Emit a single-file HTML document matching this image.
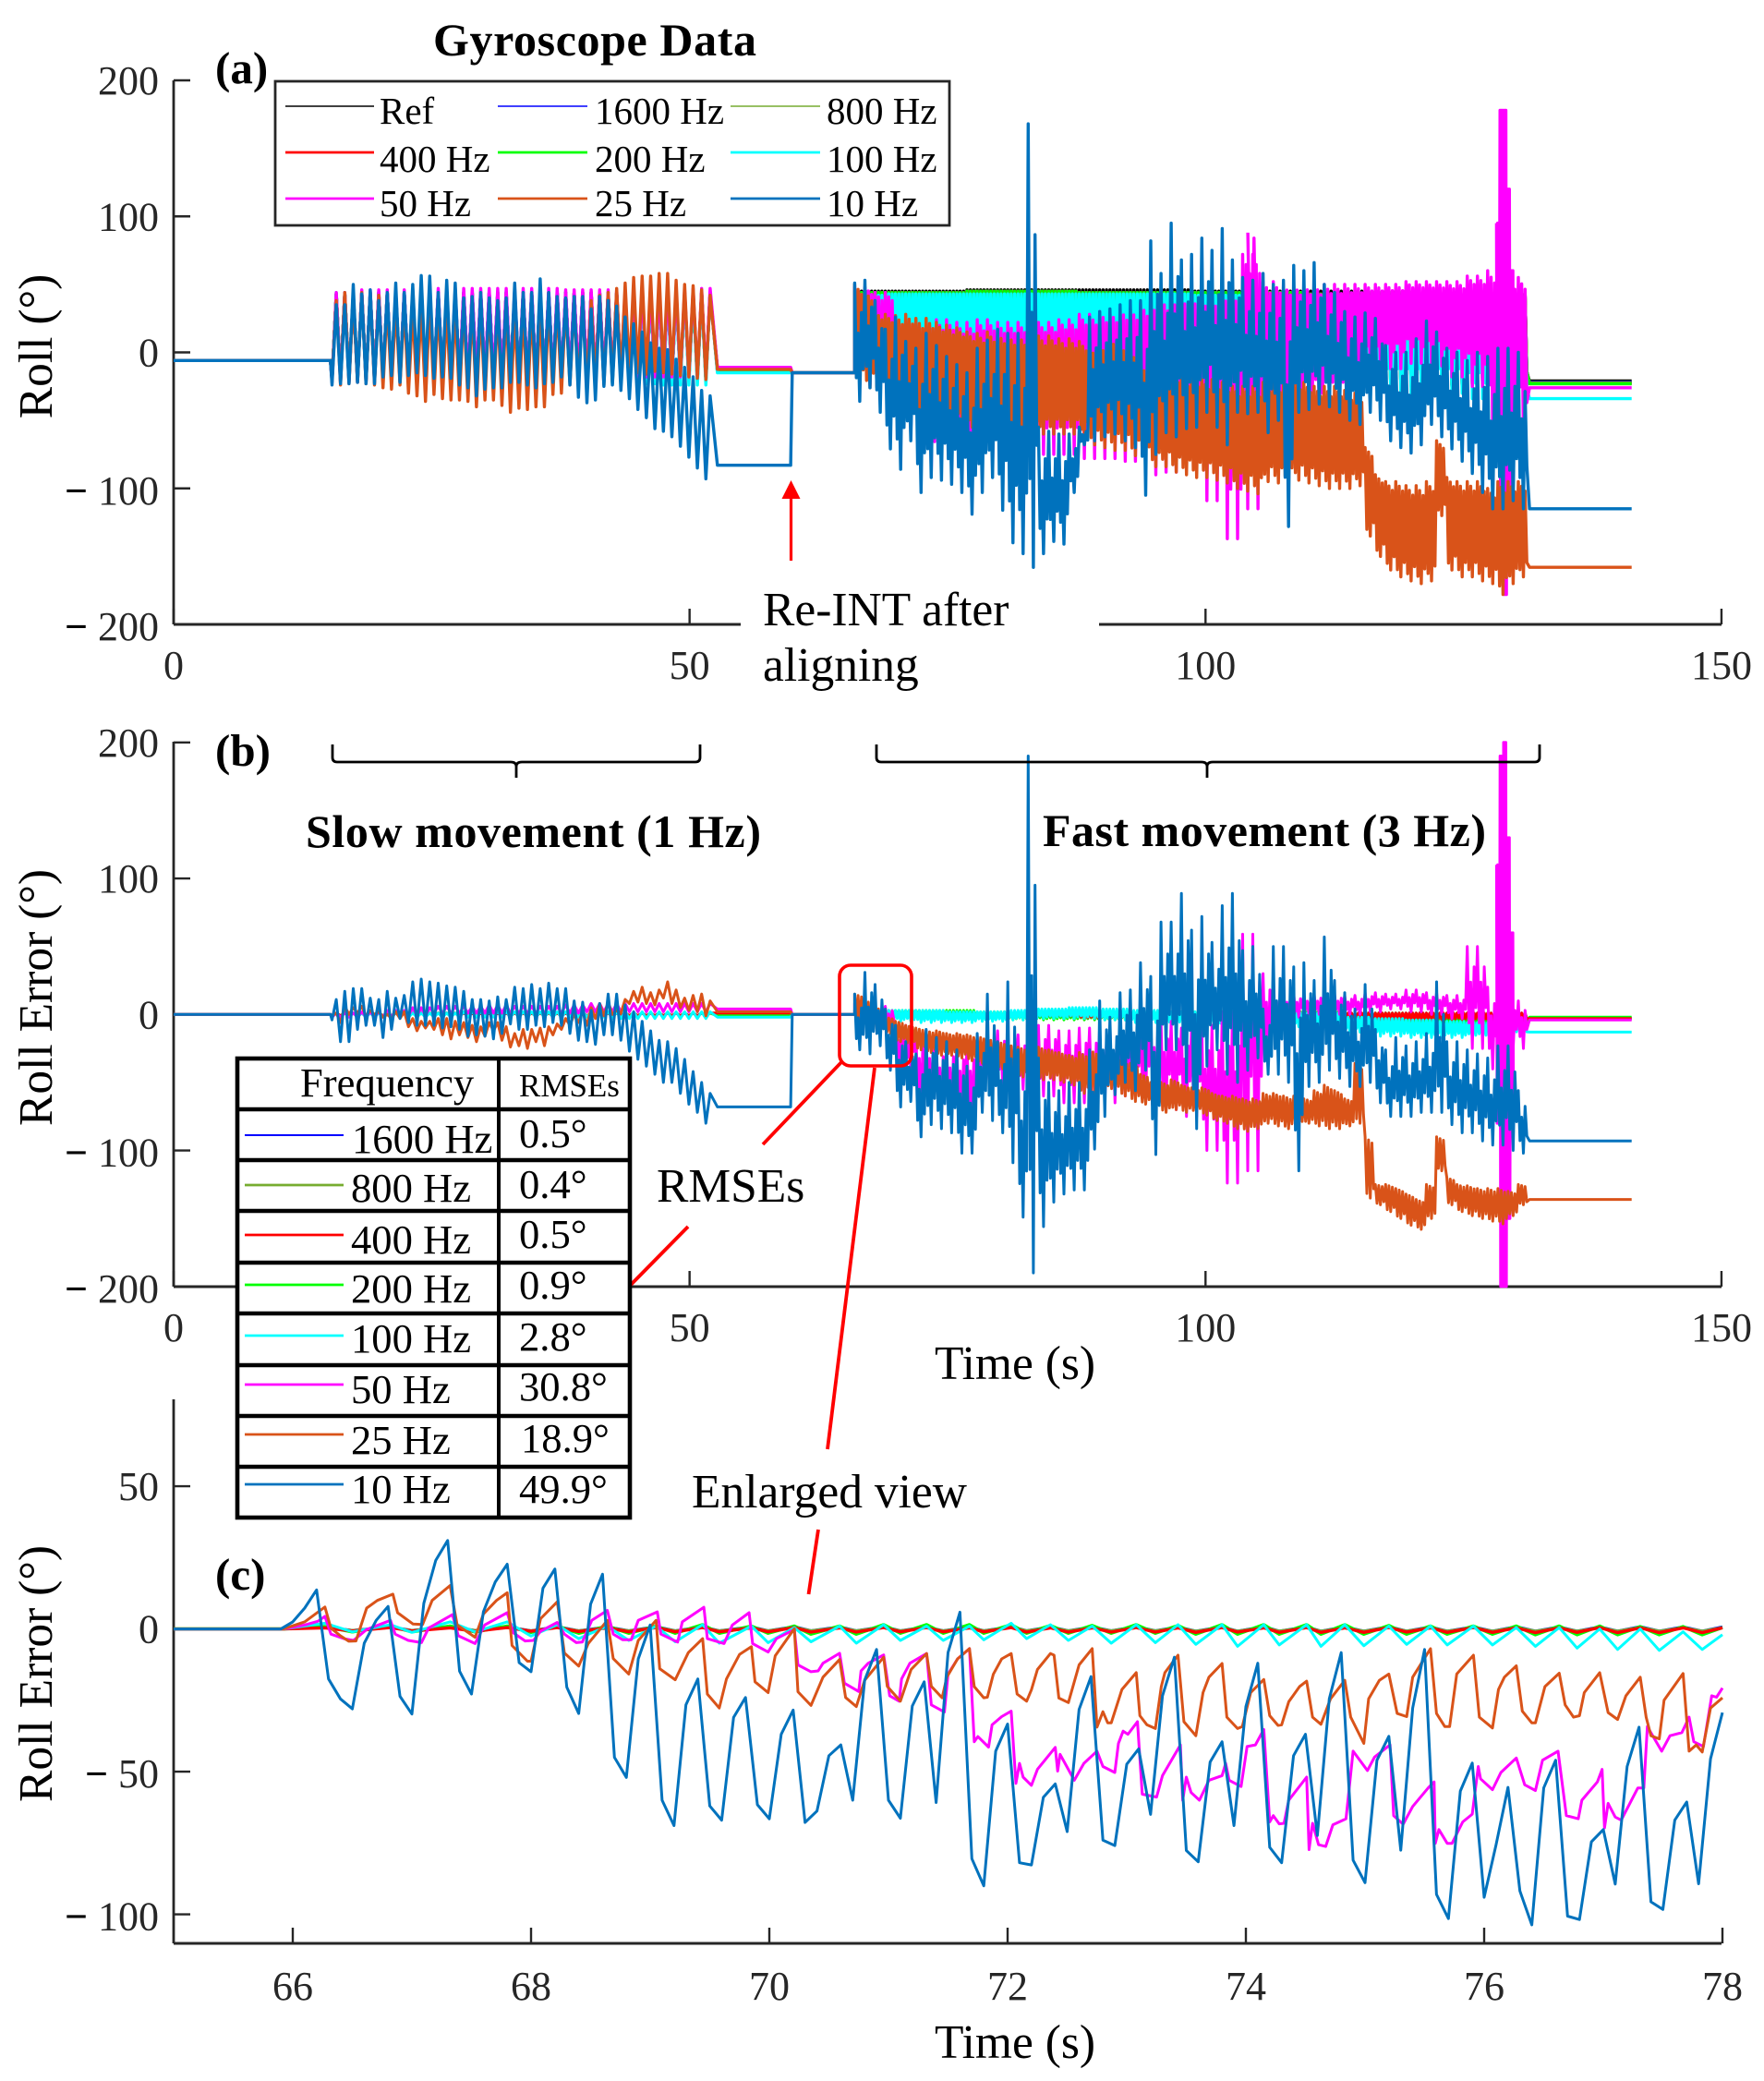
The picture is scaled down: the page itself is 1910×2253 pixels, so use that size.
<!DOCTYPE html>
<html lang="en">
<head>
<meta charset="utf-8">
<title>Gyroscope Data</title>
<style>
html,body{margin:0;padding:0;background:#fff;}
svg{display:block;font-family:"Liberation Serif",serif;}
text{fill:#000;}
.tick{fill:#262626;font-size:44px;}
.ann{font-size:51.5px;}
.leg{font-size:41px;}
.tb{font-size:44.6px;}
.b{font-weight:bold;}
</style>
</head>
<body>
<svg id="chart" xmlns="http://www.w3.org/2000/svg" width="1910" height="2253" viewBox="0 0 1910 2253">
<rect x="0" y="0" width="1910" height="2253" fill="#fff"/>
<g id="axesLayer"></g>
<g id="plotLayer" fill="none" stroke-linejoin="round"></g>

<text class="b" x="644" y="60" text-anchor="middle" font-size="50" textLength="350" lengthAdjust="spacing">Gyroscope Data</text>
<text class="b" x="233" y="90" font-size="49">(a)</text>
<text class="b" x="233" y="829" font-size="49">(b)</text>
<text class="b" x="233" y="1721" font-size="49">(c)</text>

<g>
<rect x="298" y="88" width="730" height="156" fill="#fff" stroke="#262626" stroke-width="2.8"/>
<line x1="309" x2="405" y1="115" y2="115" stroke="#000" stroke-width="1.6"/>
<text class="leg" x="411" y="134">Ref</text>
<line x1="539" x2="636" y1="115" y2="115" stroke="#0000ff" stroke-width="1.6"/>
<text class="leg" x="644" y="134">1600 Hz</text>
<line x1="791" x2="888" y1="115" y2="115" stroke="#77ac30" stroke-width="1.6"/>
<text class="leg" x="895" y="134">800 Hz</text>
<line x1="309" x2="405" y1="165" y2="165" stroke="#ff0000" stroke-width="2.8"/>
<text class="leg" x="411" y="186">400 Hz</text>
<line x1="539" x2="636" y1="165" y2="165" stroke="#00ff00" stroke-width="2.8"/>
<text class="leg" x="644" y="186">200 Hz</text>
<line x1="791" x2="888" y1="165" y2="165" stroke="#00ffff" stroke-width="2.8"/>
<text class="leg" x="895" y="186">100 Hz</text>
<line x1="309" x2="405" y1="215" y2="215" stroke="#ff00ff" stroke-width="2.8"/>
<text class="leg" x="411" y="234">50 Hz</text>
<line x1="539" x2="636" y1="215" y2="215" stroke="#d95319" stroke-width="2.8"/>
<text class="leg" x="644" y="234">25 Hz</text>
<line x1="791" x2="888" y1="215" y2="215" stroke="#0072bd" stroke-width="2.8"/>
<text class="leg" x="895" y="234">10 Hz</text>
</g>

<g>
<line x1="856.5" x2="856.5" y1="607" y2="536" stroke="#ff0000" stroke-width="3.2"/>
<polygon points="856.5,520 846.5,540 866.5,540" fill="#ff0000"/>
<text class="ann" x="826" y="677">Re-INT after</text>
<text class="ann" x="826" y="737">aligning</text>
</g>

<g>
<path d="M360 806 V820 Q360 825 365 825 H553 Q559 825 559 830 V842 M559 830 Q559 825 565 825 H753 Q758 825 758 820 V806" fill="none" stroke="#000" stroke-width="2.8"/>
<text class="b" x="331" y="917" font-size="50" textLength="493" lengthAdjust="spacing">Slow movement (1 Hz)</text>
</g>
<g>
<path d="M949 806 V820 Q949 825 954 825 H1301 Q1307 825 1307 830 V842 M1307 830 Q1307 825 1313 825 H1662 Q1667 825 1667 820 V806" fill="none" stroke="#000" stroke-width="2.8"/>
<text class="b" x="1129" y="916" font-size="50" textLength="480" lengthAdjust="spacing">Fast movement (3 Hz)</text>
</g>

<g stroke="#ff0000" fill="none">
<rect x="909" y="1045" width="78" height="109" rx="12" ry="12" stroke-width="3.6"/>
<line x1="911" y1="1150" x2="826" y2="1239" stroke-width="3.8"/>
<line x1="745" y1="1328" x2="681" y2="1393" stroke-width="3.8"/>
<line x1="947" y1="1156" x2="896" y2="1569" stroke-width="3.8"/>
<line x1="886" y1="1656" x2="875.5" y2="1726" stroke-width="3.8"/>
</g>
<text class="ann" x="711" y="1301">RMSEs</text>
<text class="ann" x="749" y="1632">Enlarged view</text>

<g>
<rect x="257" y="1146" width="425" height="497" fill="#fff" stroke="#000" stroke-width="4.6"/>
<line x1="540" x2="540" y1="1146" y2="1643" stroke="#000" stroke-width="4"/>
<g stroke="#000" stroke-width="4.6">
<line x1="257" x2="682" y1="1201" y2="1201"/>
<line x1="257" x2="682" y1="1256" y2="1256"/>
<line x1="257" x2="682" y1="1311" y2="1311"/>
<line x1="257" x2="682" y1="1367" y2="1367"/>
<line x1="257" x2="682" y1="1422" y2="1422"/>
<line x1="257" x2="682" y1="1478" y2="1478"/>
<line x1="257" x2="682" y1="1533" y2="1533"/>
<line x1="257" x2="682" y1="1588" y2="1588"/>
</g>
<text class="tb" x="325" y="1187">Frequency</text>
<text x="562" y="1187" font-size="35">RMSEs</text>

<line x1="265" x2="372" y1="1229" y2="1229" stroke="#0000ff" stroke-width="2"/>
<text class="tb" x="381" y="1248">1600 Hz</text>
<text class="tb" x="562" y="1242">0.5°</text>
<line x1="265" x2="372" y1="1283" y2="1283" stroke="#77ac30" stroke-width="2.8"/>
<text class="tb" x="380" y="1301">800 Hz</text>
<text class="tb" x="562" y="1297">0.4°</text>
<line x1="265" x2="372" y1="1337" y2="1337" stroke="#ff0000" stroke-width="2.8"/>
<text class="tb" x="380" y="1357">400 Hz</text>
<text class="tb" x="562" y="1351">0.5°</text>
<line x1="265" x2="372" y1="1391" y2="1391" stroke="#00ff00" stroke-width="2.8"/>
<text class="tb" x="380" y="1410">200 Hz</text>
<text class="tb" x="562" y="1406">0.9°</text>
<line x1="265" x2="372" y1="1446" y2="1446" stroke="#00ffff" stroke-width="2.8"/>
<text class="tb" x="380" y="1464">100 Hz</text>
<text class="tb" x="562" y="1462">2.8°</text>
<line x1="265" x2="372" y1="1499" y2="1499" stroke="#ff00ff" stroke-width="2.8"/>
<text class="tb" x="380" y="1519">50 Hz</text>
<text class="tb" x="562" y="1516">30.8°</text>
<line x1="265" x2="372" y1="1553" y2="1553" stroke="#d95319" stroke-width="2.8"/>
<text class="tb" x="380" y="1574">25 Hz</text>
<text class="tb" x="564" y="1572">18.9°</text>
<line x1="265" x2="372" y1="1607" y2="1607" stroke="#0072bd" stroke-width="2.8"/>
<text class="tb" x="380" y="1627">10 Hz</text>
<text class="tb" x="562" y="1627">49.9°</text>
</g>

<script>
/* ---------- shared tick labels ---------- */
const xTicksAB = [0, 50, 100, 150];
const xTickLabelsAB = ['0', '50', '100', '150'];
const yTicksAB = [200, 100, 0, -100, -200];
const yTickLabelsAB = ['200', '100', '0', '\u2212 100', '\u2212 200'];
const xTicksC = [66, 68, 70, 72, 74, 76, 78];
const xTickLabelsC = ['66', '68', '70', '72', '74', '76', '78'];
const yTicksC = [50, 0, -50, -100];
const yTickLabelsC = ['50', '0', '\u2212 50', '\u2212 100'];

/* ---------- panel (a): flat levels [before slow, after slow, re-aligned, after fast] ---------- */
const aLevelsRef = [-6, -14, -15, -21];
const aLevels1600 = [-6, -12, -15, -22];
const aLevels800 = [-6, -12, -15, -22.5];
const aLevels400 = [-6, -12, -15, -23];
const aLevels200 = [-6, -13, -15, -23];
const aLevels100 = [-6, -15, -15, -34];
const aLevels50 = [-6, -11, -15, -26];
const aLevels25 = [-6, -12.5, -15, -158];
const aLevels10 = [-6, -83, -15, -115];

/* panel (a): slow movement swing extremes */
const aSlowHiMinor = [43, 44, 44, 44, 44, 44, 44, 44, 44, 44, 44, 44, 44, 44, 44];
const aSlowLoMinor = [-20, -20, -20, -20, -20, -20, -20, -20, -20, -20, -20, -20, -20, -20, -20];
const aSlowHi100 = [44, 45, 45, 45, 45, 45, 45, 44, 44, 44, 44, 44, 44, 44, 44];
const aSlowLo100 = [-22, -22, -22, -22, -22, -22, -22, -22, -22, -22, -22, -23, -23, -24, -24];
const aSlowHi50 = [44, 46, 46, 46, 47, 47, 47, 47, 47, 46, 46, 46, 46, 46, 47];
const aSlowLo50 = [-22, -22, -22, -20, -20, -20, -20, -20, -20, -18, -18, -18, -18, -18, -18];
const aSlowHi25 = [38, 44, 40, 44, 43, 42, 36, 34, 34, 32, 34, 36, 34, 32, 32, 34, 33, 32, 34, 32, 34, 30, 32, 34, 32, 34, 36, 36, 34, 34, 38, 42, 44, 47, 51, 55, 56, 56, 58, 58, 53, 50, 49, 46, 42];
const aSlowLo25 = [-21, -24, -23, -22, -23, -24, -26, -27, -24, -30, -32, -36, -31, -34, -35, -35, -36, -40, -35, -35, -39, -44, -41, -42, -40, -40, -31, -30, -24, -22, -21, -20, -24, -22, -18, -16, -15, -16, -14, -15, -16, -17, -18, -19, -20];
const aSlowHi10 = [35, 35, 50, 43, 46, 38, 44, 51, 44, 50, 56.5, 56, 44, 53, 51, 40, 41, 44, 40, 38, 40, 51, 44, 44, 54, 44, 41, 40, 41, 41, 32, 41, 38, 34, 26, 21, 15, 7, 3, 2, -5, -11, -18, -28, -32];
const aSlowLo10 = [-24, -23, -23, -22, -23, -23, -18, -17, -22, -17, -15, -17, -19, -18, -19, -24, -26, -32, -27, -26, -26, -22, -22, -24, -26, -23, -22, -18, -24, -33, -37, -35, -25, -24, -28, -34, -42, -48, -56, -58, -62, -69, -77, -85, -93];

/* panel (a): fast movement swing extremes */
const aFastHiRef = [45, 46, 46, 45, 45, 43];
const aFastLoRef = [-15, -25, -25, -25, -25, -25];
const aFastHiMinor = [44, 45, 44, 44, 43, 42];
const aFastLoMinor = [-15, -22, -24, -24, -24, -24];
const aFastHi100 = [42, 43, 43, 43, 43, 43, 43, 43, 43, 43, 43, 42, 42, 42, 42, 42, 42, 42, 42, 42, 42, 30];
const aFastLo100 = [-10, -8, -5, -5, -5, -5, -10, -20, -25, -25, -30, -30, -30, -30, -30, -30, -30, -30, -30, -30, -34, -36];
const aFastHi50 = [48, 44, 26, 24, 24, 22, 24, 22, 22, 22, 24, 28, 30, 32, 36, 40, 40, 40, 45, 72, 52, 50, 50, 50, 50, 50, 50, 52, 52, 52, 56, 60, 55];
const aFastLo50 = [-24, -35, -60, -88, -80, -92, -85, -85, -78, -75, -75, -78, -78, -80, -90, -88, -70, -109, -137, -115, -60, -55, -50, -40, -32, -15, -12, -8, -10, -18, -25, -60, -60];
const aBurstHi50 = [95, 178, 178, 120, 60];
const aBurstLo50 = [-40, -160, -178, -100, -60];
const aSpikeHi50 = [88, 84];
const aSpikeLo50 = [-40, -40];
const aFastHi25 = [50, 45, 30, 28, 27, 28, 25, 25, 22, 20, 18, 15, 14, 15, 14, 13, 13, 12, 12, 12, 10, 10, 8, 3, 5, 10, 5, 0, -10, -15, -12, -15, -18, -18, -20, -20, -22, -25, -25, -25, -22, -22, -22, -20, -22, -25, -25, -25, -28, -30, -70, -90, -95, -95, -98, -98, -95, -65, -92, -95, -95, -95, -100, -95, -95, -95];
const aFastLo25 = [-24, -26, -30, -33, -38, -45, -50, -50, -48, -52, -50, -55, -58, -60, -62, -65, -65, -62, -60, -60, -60, -60, -62, -68, -70, -72, -72, -76, -80, -84, -84, -88, -90, -92, -92, -94, -96, -100, -102, -104, -95, -96, -96, -94, -96, -98, -100, -100, -100, -98, -135, -150, -160, -165, -168, -170, -168, -120, -160, -165, -165, -168, -170, -178, -170, -165];
const aFastHi10 = [51, 53, 38, 17, 26, 8, 3, 14, 5, -3, -9, -15, 3, 9, 17, 14, 14, 168, -55, -58, -60, -60, -55, 26, 30, 32, 35, 38, 38, 82, 58, 95, 68, 72, 84, 75, 91, 68, 55, 53, 58, 50, 53, 64, 60, 66, 50, 44, 30, 26, 29, 25, 5, 0, 0, 10, 23, 15, 3, 0, -6, 0, -3, 3, 3, 0];
const aFastLo10 = [-36, -26, -44, -71, -86, -65, -103, -92, -94, -97, -103, -119, -103, -92, -116, -140, -148, -158, -148, -139, -141, -103, -68, -65, -62, -60, -65, -70, -105, -75, -59, -62, -56, -55, -44, -55, -68, -44, -45, -44, -59, -50, -128, -44, -42, -38, -40, -44, -50, -53, -44, -50, -65, -70, -74, -68, -53, -62, -71, -80, -89, -103, -115, -115, -109, -115];

/* ---------- panel (b) ---------- */
const bLevels1600 = [0, 0, 0, -3];
const bLevels800 = [0, 0, 0, -3];
const bLevels400 = [0, 1, 0, -3];
const bLevels200 = [0, -1, 0, -2];
const bLevels100 = [0, -2, 0, -13];
const bLevels50 = [0, 4, 0, -4];
const bLevels25 = [0, 2, 0, -136];
const bLevels10 = [0, -68, 0, -93];

const bSlowHiMinor = [1, 1, 1, 1, 1, 1, 1, 1, 1, 1, 1, 1, 1, 1, 1];
const bSlowLoMinor = [-1, -1, -1, -1, -1, -1, -1, -1, -1, -1, -1, -1, -1, -1, -1];
const bSlowHi100 = [1, 1, 1, 1, 1, 2, 2, 2, 2, 2, 2, 2, 2, 2, 2];
const bSlowLo100 = [-2, -2, -2, -2, -2, -2, -2, -2, -2, -2, -2, -3, -3, -3, -3];
const bSlowHi50 = [1, 2, 3, 5, 6, 6, 7, 6, 6, 7, 8, 8, 8, 8, 8];
const bSlowLo50 = [-2, -2, -2, -1, 1, 1, 1, 1, 1, 1, 2, 2, 2, 2, 2];
const bSlowHi25 = [1, 6, 5, 6, 3, 2, 0, 2, 2, -3, -5, -5, -3, -3, -5, -6, -8, -9, -6, -6, -9, -14, -11, -11, -10, -9, -7, -3, 0, 2, 5, 8, 9, 3, 11, 17, 20, 16, 18, 24, 18, 12, 14, 15, 10];
const bSlowLo25 = [-1, -6, 0, 1, -1, 0, -2, -3, -3, -9, -12, -10, -11, -15, -18, -15, -17, -20, -16, -12, -19, -24, -23, -25, -20, -23, -15, -11, -8, -6, -8, -3, -1, 0, 1, 8, 9, 8, 7, 12, 8, 5, 3, 2, -1];
const bSlowHi10 = [11, 17, 19, 19, 12, 11, 17, 12, 14, 24, 26, 24, 23, 21, 20, 17, 11, 11, 10, 13, 11, 20, 19, 22, 19, 23, 19, 19, 10, 9, 3, 8, 15, 15, 7, 2, -5, -12, -19, -20, -25, -33, -42, -50, -58];
const bSlowLo10 = [-4, -20, -20, -11, -8, -8, -17, -11, -3, -6, -8, -8, -8, -10, -9, -11, -16, -15, -16, -18, -14, -7, -11, -11, -8, -9, -6, -8, -14, -19, -20, -22, -15, -15, -19, -27, -33, -38, -44, -50, -50, -58, -66, -72, -80];

const bFastHiMinor = [1, 1, 1, 1, 1, 1];
const bFastLoMinor = [-2, -2, -3, -3, -4, -4];
const bFastHi200 = [3, 3, 2, 2, 2, 2, 2, 2, 1, 0, -1];
const bFastLo200 = [-3, -4, -4, -4, -4, -4, -5, -5, -7, -8, -8];
const bFastHi100 = [3, 3, 3, 2, 2, 3, 4, 5, 4, 3, 2, 2, 2, 2, 1, 1, -2, -3, -4, -5, -6, -6];
const bFastLo100 = [-3, -5, -6, -6, -5, -4, -3, -3, -4, -6, -7, -8, -8, -8, -9, -10, -13, -16, -17, -17, -17, -14];
const bFastHi50 = [8, 6, -8, -12, -20, -22, -15, -12, -15, -8, -12, -10, -8, -5, -5, -5, -10, -8, 2, 59, 30, 15, 15, 15, 14, 16, 15, 18, 16, 14, 50, 20, 10];
const bFastLo50 = [-6, -10, -40, -70, -75, -78, -60, -50, -55, -60, -65, -65, -65, -60, -60, -70, -75, -100, -124, -115, -30, -2, 0, 0, 0, 2, 4, 2, 0, -3, -25, -40, -25];
const bBurstHi50 = [110, 190, 200, 130, 60];
const bBurstLo50 = [-80, -200, -200, -150, -60];
const bFastHi25 = [15, 10, 5, -2, -5, -8, -10, -12, -12, -14, -14, -15, -16, -18, -20, -22, -24, -24, -24, -26, -28, -30, -28, -26, -32, -36, -34, -36, -44, -50, -50, -48, -52, -54, -54, -58, -60, -60, -62, -62, -58, -58, -60, -60, -62, -56, -52, -56, -62, -36, -90, -125, -125, -128, -132, -136, -125, -90, -120, -125, -126, -128, -128, -128, -130, -125];
const bFastLo25 = [-5, -8, -12, -14, -20, -22, -26, -28, -30, -30, -32, -34, -36, -38, -40, -42, -46, -50, -48, -48, -50, -52, -58, -58, -56, -56, -60, -64, -66, -68, -72, -70, -72, -72, -74, -78, -80, -84, -86, -84, -80, -82, -84, -82, -80, -82, -84, -84, -82, -80, -135, -140, -145, -150, -155, -158, -150, -115, -140, -145, -148, -150, -152, -154, -148, -140];
const bFastHi10 = [15, 31, 22, 4, -8, -20, -29, -11, -17, -20, -26, -38, -14, 15, -20, 24, -26, 190, -32, -50, -56, -50, -50, -26, 10, -2, 16, 18, 38, 28, 68, 68, 89, 62, 72, 53, 80, 89, 47, 50, 4, 50, 50, 35, 38, 25, 57, 25, 16, 4, 22, -11, -26, -17, -23, -20, -14, 24, -20, -20, -26, -29, -32, -23, -23, -56];
const bFastLo10 = [-26, -29, -23, -41, -68, -64, -90, -81, -84, -87, -102, -102, -72, -78, -87, -109, -149, -190, -156, -138, -132, -129, -129, -99, -75, -59, -50, -56, -41, -103, -26, -26, -50, -84, -38, -26, -44, -50, -41, -32, -44, -44, -50, -115, -53, -50, -41, -47, -53, -53, -50, -65, -75, -75, -75, -72, -72, -72, -81, -87, -87, -93, -96, -96, -100, -102];

/* ---------- panel (c): small-error cycle times ---------- */
const cPeakTimes = [66.27, 66.82, 67.32, 67.80, 68.22, 68.64, 69.05, 69.44, 69.85, 70.21, 70.59, 70.96, 71.32, 71.68, 72.03, 72.36, 72.71, 73.08, 73.43, 73.80, 74.15, 74.51, 74.83, 75.20, 75.55, 75.91, 76.27, 76.63, 76.97, 77.31, 77.67, 78.00];
const cTroughTimes = [66.5, 67.0, 67.53, 68.0, 68.40, 68.82, 69.21, 69.58, 69.99, 70.35, 70.73, 71.10, 71.46, 71.80, 72.16, 72.51, 72.87, 73.24, 73.58, 73.93, 74.28, 74.63, 74.99, 75.35, 75.69, 76.07, 76.43, 76.78, 77.12, 77.47, 77.83];
const cPeak100 = [2, 1.5, 2.5, 2.5, 1.5, 1, 1, 1.5, 1, 0.5, 1, 1.5, 1, 1, 2, 1.5, 1, 1.5, 1.5, 1.5, 1.5, 1.5, 1.5, 1, 1, 1, 0.5, 0.5, 0, 0, -1, -2];
const cTrough100 = [-1, -1.2, -1, -2.5, -3.4, -4, -4.5, -5, -4.8, -4.5, -5, -4, -4, -3.8, -3.4, -4, -5, -4.8, -5.4, -6.1, -5.6, -6.1, -5.9, -5.4, -5.6, -5.6, -6.1, -6.7, -7.2, -7.5, -7.2];
const cPeak200 = [0.8, 1, 1, 1, 1, 1, 1, 1.5, 1, 1, 1, 1.5, 1.5, 1.5, 1.5, 1.2, 1.2, 1.5, 1.2, 1.5, 1.5, 1.5, 1.5, 1.2, 1, 1, 1, 1, 1, 0.8, 0.8, 0.5];
const cTrough200 = [-1, -1, -1, -1.2, -1.5, -1.5, -1.5, -1.5, -1.5, -1.8, -1.8, -1.5, -1.5, -1.5, -1.5, -1.5, -1.5, -1.5, -1.8, -1.8, -1.8, -1.8, -1.8, -1.8, -1.8, -1.8, -2, -2, -2, -2, -2];
const cPeak400 = [0.4, 0.5, 0.4, 0.5, 0.5, 0.4, 0.5, 0.5, 0.4, 0.5, 0.4, 0.5, 0.5, 0.4, 0.5, 0.4, 0.4, 0.5, 0.4, 0.5, 0.4, 0.5, 0.4, 0.5, 0.4, 0.5, 0.4, 0.4, 0.5, 0.4, 0.4, 0.4];
const cTrough400 = [-0.7, -0.7, -0.8, -0.8, -0.9, -1, -1, -1, -1, -1.1, -1.1, -1, -1, -1, -1.1, -1.1, -1.1, -1.1, -1.2, -1.1, -1.2, -1.2, -1.2, -1.1, -1.2, -1.2, -1.3, -1.2, -1.3, -1.3, -1.3];
const cPeak800 = [0.5, 0.5, 0.6, 0.5, 0.6, 0.5, 0.6, 0.5, 0.5, 0.6, 0.5, 0.6, 0.5, 0.5, 0.6, 0.5, 0.5, 0.6, 0.5, 0.5, 0.6, 0.5, 0.5, 0.6, 0.5, 0.5, 0.6, 0.5, 0.5, 0.6, 0.5, 0.5];
const cPeak1600 = [0.7, 0.7, 0.8, 0.7, 0.8, 0.7, 0.8, 0.7, 0.7, 0.8, 0.7, 0.8, 0.7, 0.7, 0.8, 0.7, 0.7, 0.8, 0.7, 0.7, 0.8, 0.7, 0.7, 0.8, 0.7, 0.7, 0.8, 0.7, 0.7, 0.8, 0.7, 0.7];
const cTrough800 = [-0.5, -0.5, -0.5, -0.6, -0.6, -0.6, -0.6, -0.6, -0.6, -0.6, -0.6, -0.6, -0.6, -0.6, -0.6, -0.6, -0.6, -0.6, -0.7, -0.7, -0.7, -0.7, -0.7, -0.7, -0.7, -0.7, -0.7, -0.7, -0.7, -0.7, -0.7];

const cTimes50 = [65, 65.92, 66.10, 66.21, 66.27, 66.32, 66.43, 66.51, 66.62, 66.82, 66.86, 66.97, 67.08, 67.14, 67.34, 67.39, 67.53, 67.61, 67.80, 67.85, 67.95, 68.02, 68.08, 68.22, 68.28, 68.38, 68.43, 68.51, 68.64, 68.69, 68.77, 68.84, 68.90, 69.06, 69.09, 69.23, 69.27, 69.45, 69.48, 69.62, 69.69, 69.83, 69.86, 69.99, 70.06, 70.21, 70.24, 70.35, 70.41, 70.45, 70.59, 70.63, 70.75, 70.77, 70.83, 70.96, 71.01, 71.09, 71.11, 71.18, 71.32, 71.36, 71.47, 71.5, 71.58, 71.68, 71.72, 71.75, 71.84, 71.87, 71.95, 72.03, 72.07, 72.10, 72.13, 72.20, 72.25, 72.40, 72.42, 72.44, 72.56, 72.64, 72.75, 72.80, 72.90, 72.93, 72.97, 73.01, 73.09, 73.13, 73.25, 73.30, 73.45, 73.47, 73.50, 73.54, 73.61, 73.69, 73.80, 73.83, 73.86, 73.96, 74.01, 74.08, 74.15, 74.20, 74.23, 74.28, 74.32, 74.36, 74.51, 74.53, 74.56, 74.61, 74.67, 74.73, 74.84, 74.90, 75.02, 75.08, 75.21, 75.24, 75.32, 75.40, 75.53, 75.58, 75.59, 75.62, 75.69, 75.73, 75.82, 75.90, 75.95, 75.97, 76.07, 76.14, 76.27, 76.34, 76.43, 76.49, 76.62, 76.69, 76.79, 76.82, 76.95, 76.99, 77.01, 77.04, 77.10, 77.15, 77.29, 77.34, 77.37, 77.49, 77.56, 77.66, 77.72, 77.76, 77.84, 77.91, 77.95, 78];
const cValues50 = [0, 0, 1.4, 2.7, 4.4, -1.8, -3.4, -4, -0.2, 3, -1.8, -4, -4.8, 0.3, 5, -2.4, -5.1, 1.4, 5.7, -1.3, -4.2, -4, -0.8, 2.3, -1.8, -4.8, -4.6, 3, 6.5, -1.8, -3.8, -3.8, 3, 6, -1.8, -4.6, 2.5, 7.6, -3.4, -5.1, 1.4, 5.7, -5.1, -8.1, -3.4, -0.2, -12.6, -15, -14.7, -12, -8.5, -19, -21.9, -14.7, -12, -9.1, -23.4, -25.3, -17.5, -12, -8.6, -26.6, -29.1, -15.8, -10.5, -6.9, -39.5, -37.7, -41.4, -33.6, -30.7, -28.8, -54.1, -47.1, -51.9, -54.8, -49.2, -41.5, -49.8, -43.9, -53, -47.1, -42.8, -48.2, -50.3, -40.1, -35.8, -36.9, -32.5, -57.9, -58.9, -51.4, -40.6, -60, -51.9, -57.3, -60, -53, -51.4, -47.1, -53, -55.2, -41.2, -40.6, -35.2, -67.6, -65.4, -68.3, -68.1, -60, -51.9, -77.3, -68.1, -75.6, -76.2, -68.6, -66.5, -42.8, -49.6, -44.9, -40.6, -65.4, -68.4, -62.2, -55.7, -53.6, -75.1, -70.3, -75.1, -75.1, -67.6, -64.9, -48.2, -52.5, -56.3, -50.3, -45.2, -54.6, -56.6, -46, -42.8, -65.4, -66.5, -60, -53.6, -49.2, -69.7, -61.1, -65.9, -67, -55.7, -55.7, -34.2, -42.8, -37.4, -36.3, -30.9, -39.5, -41.2, -23.4, -23.9, -20.7];

const cTimes25 = [65, 65.92, 66.10, 66.27, 66.32, 66.40, 66.47, 66.53, 66.62, 66.71, 66.84, 66.88, 67.01, 67.09, 67.17, 67.32, 67.38, 67.53, 67.60, 67.71, 67.80, 67.84, 67.97, 68.0, 68.08, 68.22, 68.28, 68.40, 68.48, 68.64, 68.69, 68.82, 68.90, 69.05, 69.08, 69.21, 69.32, 69.44, 69.48, 69.58, 69.64, 69.75, 69.85, 69.88, 69.99, 70.05, 70.21, 70.24, 70.35, 70.45, 70.59, 70.64, 70.73, 70.80, 70.96, 70.99, 71.10, 71.19, 71.32, 71.36, 71.45, 71.49, 71.58, 71.68, 71.72, 71.80, 71.83, 71.88, 71.95, 72.03, 72.08, 72.16, 72.20, 72.25, 72.36, 72.39, 72.43, 72.51, 72.60, 72.71, 72.75, 72.80, 72.84, 72.87, 72.96, 73.08, 73.11, 73.17, 73.24, 73.29, 73.32, 73.43, 73.48, 73.58, 73.64, 73.69, 73.80, 73.84, 73.93, 73.97, 74.04, 74.15, 74.20, 74.27, 74.30, 74.36, 74.45, 74.51, 74.56, 74.63, 74.71, 74.83, 74.88, 74.99, 75.03, 75.12, 75.20, 75.27, 75.35, 75.40, 75.55, 75.60, 75.67, 75.71, 75.77, 75.91, 75.96, 76.07, 76.12, 76.17, 76.27, 76.32, 76.40, 76.43, 76.51, 76.63, 76.68, 76.75, 76.80, 76.84, 76.97, 77.04, 77.12, 77.19, 77.31, 77.36, 77.40, 77.47, 77.51, 77.67, 77.72, 77.78, 77.83, 77.90, 78];
const cValues25 = [0, 0, 2.5, 7.7, 0.3, -2.4, -4.3, -4.2, 7.3, 10, 12.2, 5.7, 1.7, 1.6, 10, 15.2, 1.4, -2.9, 5.2, 10, 12.7, -5.8, -11.3, -11.3, 3.6, 9.5, -8.4, -13, -5.1, 3, -10.4, -15.8, -4, 3, -13.9, -17.8, -8.3, -3.4, -22.8, -27.7, -17.5, -8.9, -6.2, -18.5, -22.3, -9.4, 0.1, -22, -26.8, -16.9, -10.7, -24, -27.2, -18, -9.9, -20.1, -25.3, -14.2, -8.6, -20.1, -24.1, -16.9, -10.5, -6.9, -20.2, -24.1, -23.9, -15.9, -10.5, -8.6, -22.8, -25.3, -21.3, -14.2, -8.6, -9.2, -24.2, -25.8, -12.6, -6.9, -34.4, -29, -32.9, -32.9, -21.2, -15.3, -30.4, -33.6, -34.9, -20.2, -15.3, -9.2, -32.5, -37.4, -22.3, -16.9, -12.1, -30.9, -34.9, -34.2, -22.3, -17.7, -30.4, -33.8, -33.6, -25.5, -20.2, -18.3, -30.9, -33.4, -24.5, -18, -30.9, -40.1, -24.5, -18, -15.8, -29.6, -30.7, -16.9, -6.9, -29.6, -34.2, -34.2, -15.8, -9.2, -30.9, -34.7, -21.2, -16.9, -12.9, -28.8, -32.9, -32.9, -20.2, -15.5, -26.6, -30.9, -30.4, -22.3, -15.3, -29.3, -31.7, -23.4, -16.9, -30.9, -37.4, -38.5, -25, -15.6, -42.8, -40.6, -43.1, -27.7, -24.1];

/* 10 Hz samples from t = 65.9 s, one every 0.1 s */
const cStart10 = 65.9;
const cStep10 = 0.1;
const cValues10 = [0, 2.5, 7.3, 13.7, -17.5, -24.5, -28, -5, 3, 7.9, -23.6, -29.8, 9, 24, 31, -14.8, -22.8, 6, 16.5, 22.7, -11.8, -15, 14.3, 21, -20.4, -29.6, 8.7, 19.2, -45, -52, -10.5, 1.4, -60, -68.9, -26.6, -17.5, -62, -67, -31, -24, -61.6, -66.5, -36.9, -28.4, -67.8, -63.8, -44.4, -40.6, -60, -18, -7.2, -60, -66.3, -27, -18.5, -60.8, -8.3, 5.9, -80.5, -90, -42.8, -33.3, -81.9, -82.7, -59, -54.3, -71, -28.2, -16.7, -74, -75.9, -47.4, -42, -65, -23.4, -9.9, -77.6, -81.6, -46.6, -39.5, -68.9, -27.2, -12, -76.5, -81.9, -44.4, -36.9, -72.4, -24.5, -8.3, -81, -88.9, -46, -37.6, -77.5, -27.7, -7.2, -93, -101.5, -56.8, -47, -94, -75.6, -55.5, -91.8, -103.7, -55.7, -46, -100.6, -101.8, -74.6, -70.3, -89.4, -48.2, -34.4, -95.6, -98.3, -67, -60.6, -89.3, -45.5, -29.3];

/* ---------- series colours (styles) ---------- */
const colorRef = '#000000';
const color1600 = '#0000ff';
const color800 = '#77ac30';
const color400 = '#ff0000';
const color200 = '#00ff00';
const color100 = '#00ffff';
const color50 = '#ff00ff';
const color25 = '#d95319';
const color10 = '#0072bd';

/* ---------- axis functions ---------- */
const xAB = t => 188 + t * 11.173;
const yA = v => 381.5 - v * 1.4725;
const yB = v => 1098.3 - v * 1.4725;
const xC = t => 188 + (t - 65) * 129;
const yC = v => 1763.6 - v * 3.09;

const NS = 'http://www.w3.org/2000/svg';
const axesLayer = document.getElementById('axesLayer');
const plotLayer = document.getElementById('plotLayer');

function drawLine(x1, y1, x2, y2, name, width) {
  const el = document.createElementNS(NS, 'line');
  
  
  el.setAttribute('x1', x1);
  el.setAttribute('y1', y1);
  el.setAttribute('x2', x2);
  el.setAttribute('y2', y2);
  el.setAttribute('stroke', '#262626');
  el.setAttribute('stroke-width', width);
  axesLayer.appendChild(el);
}

function drawText(x, y, label, anchor, name) {
  const el = document.createElementNS(NS, 'text');
  
  
  el.setAttribute('class', 'tick');
  el.setAttribute('x', x);
  el.setAttribute('y', y);
  el.setAttribute('text-anchor', anchor);
  if (label[0] === '\u2212') {
    const minus = document.createElementNS(NS, 'tspan');
    minus.setAttribute('font-weight', 'bold');
    minus.setAttribute('fill', '#000');
    minus.textContent = label[0];
    el.appendChild(minus);
    el.appendChild(document.createTextNode(label.slice(1)));
  } else {
    el.textContent = label;
  }
  axesLayer.appendChild(el);
}

function drawAxisTitle(x, y, label, rotate, name) {
  const el = document.createElementNS(NS, 'text');
  
  
  el.setAttribute('class', 'ann');
  el.setAttribute('text-anchor', 'middle');
  el.setAttribute('x', x);
  el.setAttribute('y', y);
  if (rotate) el.setAttribute('transform', 'rotate(-90 ' + x + ' ' + y + ')');
  el.textContent = label;
  axesLayer.appendChild(el);
}

function drawAxes(prefix, xFn, yFn, xs, xLabels, ys, yLabels, yTop, yBase, labelBase, segments) {
  drawLine(188, yTop, 188, yBase, prefix + '-y-axis', 2.8);
  segments.forEach(function (seg, i) {
    drawLine(seg[0], yBase, seg[1], yBase, prefix + '-x-axis-' + i, 3);
  });
  xs.forEach(function (t, i) {
    drawLine(xFn(t), yBase, xFn(t), yBase - 17, prefix + '-x-tick-' + xLabels[i], 2.4);
    drawText(xFn(t), labelBase, xLabels[i], 'middle', prefix + '-x-tick-label-' + xLabels[i]);
  });
  ys.forEach(function (v, i) {
    drawLine(188, yFn(v), 206, yFn(v), prefix + '-y-tick-' + yLabels[i].replace(/\W/g, 'm'), 2.4);
    drawText(172, yFn(v) + (v < 0 ? 17 : 15), yLabels[i], 'end', prefix + '-y-tick-label-' + yLabels[i].replace(/\W/g, 'm'));
  });
}

/* ---------- series drawing ---------- */
/* cycle-to-cycle stroke reach within the envelope (line style per series) */
const solidHi = [1, 0.9, 0.8];
const solidLo = [0.85, 1, 0.7];
const topHi = [1, 1, 1];
const topLo = [0.5, 1, 0.7];
const fillHi = [1, 0.92, 0.85];
const fillLo = [0.4, 1, 0.6];
const sparseHi = [1, 0.3, 0.6];
const sparseLo = [0.5, 1, 0.2];
const spikeHi = [1, 0.15, 0.5];
const spikeLo = [0.6, 1, 0.45];
const slowT0 = 15.35, slowT1 = 52.4, fastT0 = 66, fastT1 = 131.3;
const slowCyclesPerSecond = 1.22, fastCyclesPerSecond = 3, burstCyclesPerSecond = 8;

function swingPoints(hi, lo, t0, t1, cyclesPerSecond, hiShape, loShape, lowFirst) {
  const pts = [];
  const binW = (t1 - t0) / hi.length;
  const cycles = Math.max(1, Math.round(binW * cyclesPerSecond));
  let k = 0;
  hi.forEach(function (h, i) {
    const l = lo[i];
    const mid = (h + l) / 2;
    for (let c = 0; c < cycles; c++) {
      const t = t0 + i * binW + c * binW / cycles;
      const top = mid + (h - mid) * hiShape[k % hiShape.length];
      const bottom = mid + (l - mid) * loShape[k % loShape.length];
      const half = t + binW / cycles / 2;
      if (lowFirst) {
        pts.push([t, bottom], [half, top]);
      } else {
        pts.push([t, top], [half, bottom]);
      }
      k++;
    }
  });
  return pts;
}

function fullSeries(levels, slowHi, slowLo, fastHi, fastLo, hiShape, loShape) {
  let pts = [[0, levels[0]], [15.2, levels[0]]];
  pts = pts.concat(swingPoints(slowHi, slowLo, slowT0, slowT1, slowCyclesPerSecond, [1], [1], true));
  pts.push([52.7, levels[1]], [59.8, levels[1]], [59.95, levels[2]], [fastT0, levels[2]]);
  pts = pts.concat(swingPoints(fastHi, fastLo, fastT0, fastT1, fastCyclesPerSecond, hiShape, loShape, false));
  pts.push([131.4, levels[3]], [141.3, levels[3]]);
  return pts;
}

function plot(points, xFn, yFn, color, width, name) {
  const el = document.createElementNS(NS, 'polyline');
  
  
  el.setAttribute('points', points.map(function (p) { return xFn(p[0]).toFixed(1) + ',' + yFn(p[1]).toFixed(1); }).join(' '));
  el.setAttribute('stroke', color);
  el.setAttribute('stroke-width', width);
  plotLayer.appendChild(el);
}

/* axes */
drawAxes('panel-a', xAB, yA, xTicksAB, xTickLabelsAB, yTicksAB, yTickLabelsAB, 87, 676, 735, [[188, 802], [1190, 1864]]);
drawAxes('panel-b', xAB, yB, xTicksAB, xTickLabelsAB, yTicksAB, yTickLabelsAB, 803, 1393, 1452, [[188, 1864]]);
drawAxes('panel-c', xC, yC, xTicksC, xTickLabelsC, yTicksC, yTickLabelsC, 1515, 2104, 2165, [[188, 1864]]);
drawAxisTitle(56, 375, 'Roll (\u00b0)', true, 'panel-a-y-axis-title');
drawAxisTitle(56, 1080, 'Roll Error (\u00b0)', true, 'panel-b-y-axis-title');
drawAxisTitle(56, 1812, 'Roll Error (\u00b0)', true, 'panel-c-y-axis-title');
drawAxisTitle(1099, 1493, 'Time (s)', false, 'panel-b-x-axis-title');
drawAxisTitle(1099, 2228, 'Time (s)', false, 'panel-c-x-axis-title');

const widthA = 3.4, widthB = 3, widthC = 3;

/* panel (a) */
plot(fullSeries(aLevelsRef, aSlowHiMinor, aSlowLoMinor, aFastHiRef, aFastLoRef, topHi, topLo), xAB, yA, colorRef, widthA, 'panel-a-series-ref');
plot(fullSeries(aLevels1600, aSlowHiMinor, aSlowLoMinor, aFastHiMinor, aFastLoMinor, topHi, topLo), xAB, yA, color1600, widthA, 'panel-a-series-1600hz');
plot(fullSeries(aLevels800, aSlowHiMinor, aSlowLoMinor, aFastHiMinor, aFastLoMinor, topHi, topLo), xAB, yA, color800, widthA, 'panel-a-series-800hz');
plot(fullSeries(aLevels400, aSlowHiMinor, aSlowLoMinor, aFastHiMinor, aFastLoMinor, topHi, topLo), xAB, yA, color400, widthA, 'panel-a-series-400hz');
plot(fullSeries(aLevels200, aSlowHiMinor, aSlowLoMinor, aFastHiMinor, aFastLoMinor, topHi, topLo), xAB, yA, color200, widthA, 'panel-a-series-200hz');
plot(fullSeries(aLevels100, aSlowHi100, aSlowLo100, aFastHi100, aFastLo100, topHi, topLo), xAB, yA, color100, widthA, 'panel-a-series-100hz');
plot(fullSeries(aLevels50, aSlowHi50, aSlowLo50, aFastHi50, aFastLo50, fillHi, fillLo), xAB, yA, color50, widthA, 'panel-a-series-50hz');
plot(swingPoints(aBurstHi50, aBurstLo50, 128.2, 129.9, burstCyclesPerSecond, [1], [1], false), xAB, yA, color50, widthA, 'panel-a-series-50hz-burst');
plot(swingPoints(aSpikeHi50, aSpikeLo50, 104.1, 105.3, 2, [1], [1], false), xAB, yA, color50, widthA, 'panel-a-series-50hz-spike');
plot(fullSeries(aLevels25, aSlowHi25, aSlowLo25, aFastHi25, aFastLo25, solidHi, solidLo), xAB, yA, color25, widthA, 'panel-a-series-25hz');
plot(fullSeries(aLevels10, aSlowHi10, aSlowLo10, aFastHi10, aFastLo10, spikeHi, spikeLo), xAB, yA, color10, widthA, 'panel-a-series-10hz');

/* panel (b) */
plot(fullSeries(bLevels1600, bSlowHiMinor, bSlowLoMinor, bFastHiMinor, bFastLoMinor, topHi, topLo), xAB, yB, color1600, widthB, 'panel-b-series-1600hz');
plot(fullSeries(bLevels800, bSlowHiMinor, bSlowLoMinor, bFastHiMinor, bFastLoMinor, topHi, topLo), xAB, yB, color800, widthB, 'panel-b-series-800hz');
plot(fullSeries(bLevels200, bSlowHiMinor, bSlowLoMinor, bFastHi200, bFastLo200, topHi, topLo), xAB, yB, color200, widthB, 'panel-b-series-200hz');
plot(fullSeries(bLevels400, bSlowHiMinor, bSlowLoMinor, bFastHiMinor, bFastLoMinor, topHi, topLo), xAB, yB, color400, widthB, 'panel-b-series-400hz');
plot(fullSeries(bLevels100, bSlowHi100, bSlowLo100, bFastHi100, bFastLo100, topHi, topLo), xAB, yB, color100, widthB, 'panel-b-series-100hz');
plot(fullSeries(bLevels50, bSlowHi50, bSlowLo50, bFastHi50, bFastLo50, sparseHi, sparseLo), xAB, yB, color50, widthB, 'panel-b-series-50hz');
plot(swingPoints(bBurstHi50, bBurstLo50, 128.2, 129.9, burstCyclesPerSecond, [1], [1], false), xAB, yB, color50, widthB, 'panel-b-series-50hz-burst');
plot(fullSeries(bLevels25, bSlowHi25, bSlowLo25, bFastHi25, bFastLo25, solidHi, solidLo), xAB, yB, color25, widthB, 'panel-b-series-25hz');
plot(fullSeries(bLevels10, bSlowHi10, bSlowLo10, bFastHi10, bFastLo10, spikeHi, spikeLo), xAB, yB, color10, widthB, 'panel-b-series-10hz');

/* panel (c) */
function cycleSeries(peaks, troughs) {
  const pts = [[65, 0], [65.92, 0]];
  peaks.forEach(function (p, i) {
    pts.push([cPeakTimes[i], p]);
    if (i < troughs.length) pts.push([cTroughTimes[i], troughs[i]]);
  });
  return pts;
}
function pairSeries(times, values) {
  return times.map(function (t, i) { return [t, values[i]]; });
}
const points10 = [[65, 0]].concat(cValues10.map(function (v, i) { return [cStart10 + i * cStep10, v]; }));

plot(cycleSeries(cPeak1600, cTrough800), xC, yC, color1600, widthC, 'panel-c-series-1600hz');
plot(cycleSeries(cPeak800, cTrough800), xC, yC, color800, widthC, 'panel-c-series-800hz');
plot(cycleSeries(cPeak200, cTrough200), xC, yC, color200, 3.6, 'panel-c-series-200hz');
plot(cycleSeries(cPeak400, cTrough400), xC, yC, color400, 3.4, 'panel-c-series-400hz');
plot(cycleSeries(cPeak100, cTrough100), xC, yC, color100, widthC, 'panel-c-series-100hz');
plot(pairSeries(cTimes50, cValues50), xC, yC, color50, widthC, 'panel-c-series-50hz');
plot(pairSeries(cTimes25, cValues25), xC, yC, color25, widthC, 'panel-c-series-25hz');
plot(points10, xC, yC, color10, widthC, 'panel-c-series-10hz');
</script>
</svg>
</body>
</html>
